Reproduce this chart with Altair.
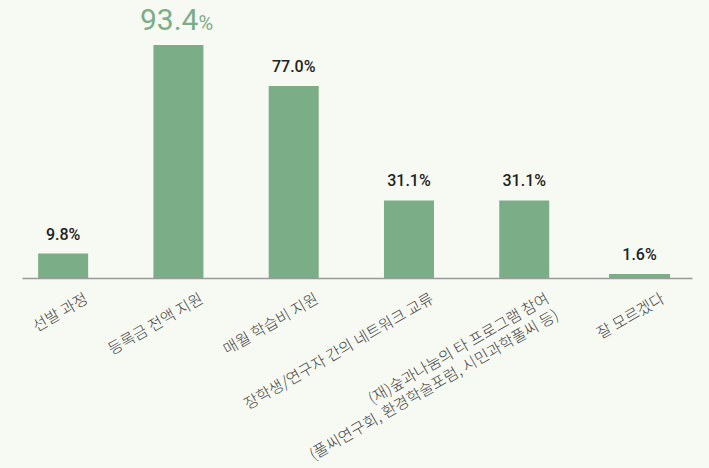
import altair as alt
import pandas as pd

categories = [
    "선발 과정",
    "등록금 전액 지원",
    "매월 학습비 지원",
    "장학생/연구자 간의 네트워크 교류",
    "(재)숲과나눔의 타 프로그램 참여\n(풀씨연구회, 환경학술포럼, 시민과학풀씨 등)",
    "잘 모르겠다",
]
values = [9.8, 93.4, 77.0, 31.1, 31.1, 1.6]

df = pd.DataFrame({"category": categories, "value": values})

FONT = "Noto Sans CJK KR"
NUMFONT = "Roboto"
GREEN = "#7bad87"

x = alt.X(
    "category:N",
    sort=None,
    title=None,
    scale=alt.Scale(paddingInner=0.566, paddingOuter=0.189, align=0.37),
    axis=alt.Axis(
        labelAngle=-30,
        labelAlign="right",
        labelBaseline="top",
        labelOffset=20,
        labelPadding=13,
        ticks=False,
        domainColor="#9a9a9a",
        domainWidth=1.5,
        labelFont=FONT,
        labelFontSize=15.5,
        labelFontWeight=300,
        labelColor="#444444",
        labelLimit=0,
        labelExpr="split(datum.label, '\\n')",
        labelLineHeight=19,
    ),
)
y = alt.Y("value:Q", scale=alt.Scale(domain=[0, 111]), axis=None)

base = alt.Chart(df).encode(x=x, y=y)

bars = base.mark_bar(color=GREEN).encode(
    size=alt.condition(alt.datum.category == "잘 모르겠다", alt.value(61), alt.value(50))
)

normal_labels = (
    base.transform_joinaggregate(maxv="max(value)")
    .transform_filter("datum.value < datum.maxv")
    .transform_calculate(lbl="format(datum.value, '.1f') + '%'")
    .mark_text(font=NUMFONT, fontSize=16, fontWeight=500, color="#222222", dy=-14, baseline="alphabetic")
    .encode(text="lbl:N")
)

top_num = (
    base.transform_joinaggregate(maxv="max(value)")
    .transform_filter("datum.value == datum.maxv")
    .transform_calculate(lbl="format(datum.value, '.1f')")
    .mark_text(font=NUMFONT, fontSize=30, fontWeight="normal", color=GREEN, dy=-15, dx=20, align="right", baseline="alphabetic")
    .encode(text="lbl:N")
)
top_pct = (
    base.transform_joinaggregate(maxv="max(value)")
    .transform_filter("datum.value == datum.maxv")
    .mark_text(font=NUMFONT, fontSize=20, fontWeight="normal", color=GREEN, dy=-15, dx=20, align="left", baseline="alphabetic")
    .encode(text=alt.value("%"))
)

chart = (
    alt.layer(bars, normal_labels, top_num, top_pct)
    .properties(
        width=670,
        height=276.9,
        background="#f7f9f3",
        padding={"left": 22, "top": 1.1, "right": 17, "bottom": 190},
        autosize=alt.AutoSizeParams(type="none"),
    )
    .configure_view(stroke=None)
)

chart.save("out.html", embed_options={"renderer": "svg", "actions": False})
